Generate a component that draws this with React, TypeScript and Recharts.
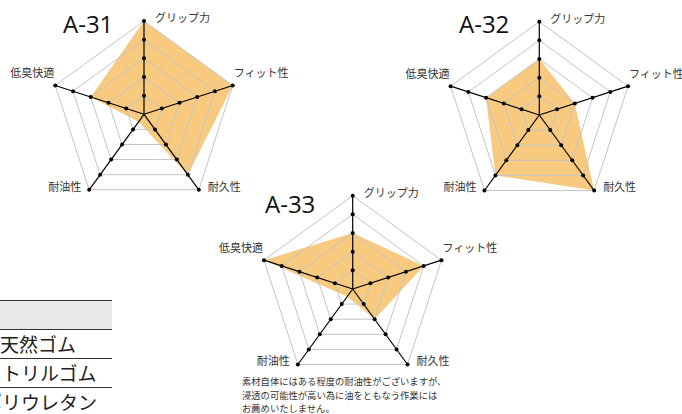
import React from 'react';
import { RadarChart, Radar, PolarGrid, PolarAngleAxis, PolarRadiusAxis } from 'recharts';

const axes = ['グリップ力', 'フィット性', '耐久性', '耐油性', '低臭快適'];
const levels = [1, 2, 3, 4, 5];
const a31 = [5, 5, 4, 0.5, 3];
const a32 = [3, 2, 5, 4, 3];
const a33 = [3, 4, 2, 0.5, 5];
const titles = ['A-31', 'A-32', 'A-33'];
const materials = ['天然ゴム', 'ニトリルゴム', 'ポリウレタン'];
const noteLines = [
  '素材自体にはある程度の耐油性がございますが、',
  '浸透の可能性が高い為に油をともなう作業には',
  'お薦めいたしません。',
];

const R = 93.3;
const FONT_JP = '"Noto Sans CJK JP", "Noto Sans", sans-serif';

// label offsets relative to vertex: [dx, dy, anchor]
const labelOffsets: [number, number, string][] = [
  [11, -4, 'start'],
  [1, -13, 'start'],
  [9, -4, 'start'],
  [-8, -4, 'end'],
  [-1, -13, 'end'],
];

const buildData = (vals: number[]) =>
  axes.map((a, i) => {
    const row: any = { axis: a, value: vals[i] };
    levels.forEach((l) => {
      row['l' + l] = l;
    });
    return row;
  });

const makeTick = (cx: number, cy: number, show: boolean) => (props: any) => {
  if (!show) return <g />;
  const i = props.index;
  const ang = ((90 - 72 * i) * Math.PI) / 180;
  const vx = cx + R * Math.cos(ang);
  const vy = cy - R * Math.sin(ang);
  const [dx, dy, anchor] = labelOffsets[i];
  return (
    <text
      x={vx + dx}
      y={vy + dy}
      textAnchor={anchor as any}
      dominantBaseline="central"
      fontSize={11}
      fill="#333"
      fontFamily={FONT_JP}
    >
      {props.payload.value}
    </text>
  );
};

const chartProps = (cx: number, cy: number, data: any[]) => ({
  width: 682,
  height: 414,
  data,
  cx,
  cy,
  outerRadius: R,
  margin: { top: 0, right: 0, bottom: 0, left: 0 },
});

const Radar5 = ({ vals, cx, cy }: { vals: number[]; cx: number; cy: number }) => {
  const data = buildData(vals);
  return (
    <>
      <div style={{ position: 'absolute', left: 0, top: 0 }}>
        <RadarChart {...chartProps(cx, cy, data)}>
          <PolarRadiusAxis domain={[0, 5]} tickCount={6} tick={false} axisLine={false} />
          <PolarAngleAxis dataKey="axis" tick={makeTick(cx, cy, false)} tickLine={false} axisLine={false} />
          <Radar dataKey="value" stroke="none" fill="#f7ca80" fillOpacity={1} isAnimationActive={false} />
        </RadarChart>
      </div>
      <div style={{ position: 'absolute', left: 0, top: 0 }}>
        <RadarChart {...chartProps(cx, cy, data)}>
          <PolarRadiusAxis domain={[0, 5]} tickCount={6} tick={false} axisLine={false} />
          <PolarAngleAxis dataKey="axis" tick={makeTick(cx, cy, true)} tickLine={false} axisLine={false} />
          <PolarGrid gridType="polygon" radialLines={false} stroke="#c4c4c4" />
          <PolarGrid gridType="polygon" radialLines={true} polarRadius={[0]} stroke="#000" strokeWidth={1.2} />
          {levels.map((l) => (
            <Radar
              key={l}
              dataKey={'l' + l}
              stroke="none"
              fill="none"
              dot={{ r: 2, fill: '#000', stroke: 'none', fillOpacity: 1 }}
              isAnimationActive={false}
            />
          ))}
        </RadarChart>
      </div>
    </>
  );
};

const titlePos = [
  { left: 63, top: 8 },
  { left: 459, top: 8 },
  { left: 265, top: 188 },
];

const rowLeft = [0, -17, -17];

export default function App() {
  return (
    <div
      style={{
        position: 'absolute',
        left: 0,
        top: 0,
        width: 682,
        height: 414,
        overflow: 'hidden',
        background: '#fff',
        fontFamily: FONT_JP,
      }}
    >
      {/* table fragment */}
      <div style={{ position: 'absolute', left: 0, top: 300, width: 112, height: 30, background: '#e8e8e8', borderTop: '1px solid #333', borderBottom: '1px solid #333', boxSizing: 'border-box' }} />
      {materials.map((m, i) => (
        <div
          key={m}
          style={{
            position: 'absolute',
            left: 0,
            top: 329 + i * 29,
            width: 112,
            height: 30,
            boxSizing: 'border-box',
            borderBottom: i < 2 ? '1px solid #333' : 'none',
            fontSize: 19,
            lineHeight: '29px',
            color: '#222',
            whiteSpace: 'nowrap',
          }}
        >
          <span style={{ position: 'absolute', left: rowLeft[i], top: 0 }}>{m}</span>
        </div>
      ))}

      <Radar5 vals={a31} cx={144} cy={114.3} />
      <Radar5 vals={a32} cx={539.3} cy={115} />
      <Radar5 vals={a33} cx={352.7} cy={289} />

      {titles.map((t, i) => (
        <div
          key={t}
          style={{
            position: 'absolute',
            left: titlePos[i].left,
            top: titlePos[i].top,
            fontFamily: '"Open Sans", sans-serif',
            fontSize: 24,
            lineHeight: '32px',
            color: '#111',
          }}
        >
          {t}
        </div>
      ))}

      <div
        style={{
          position: 'absolute',
          left: 242,
          top: 375,
          fontSize: 9.3,
          lineHeight: '13.5px',
          color: '#333',
          whiteSpace: 'nowrap',
        }}
      >
        {noteLines.map((l) => (
          <div key={l}>{l}</div>
        ))}
      </div>
    </div>
  );
}
